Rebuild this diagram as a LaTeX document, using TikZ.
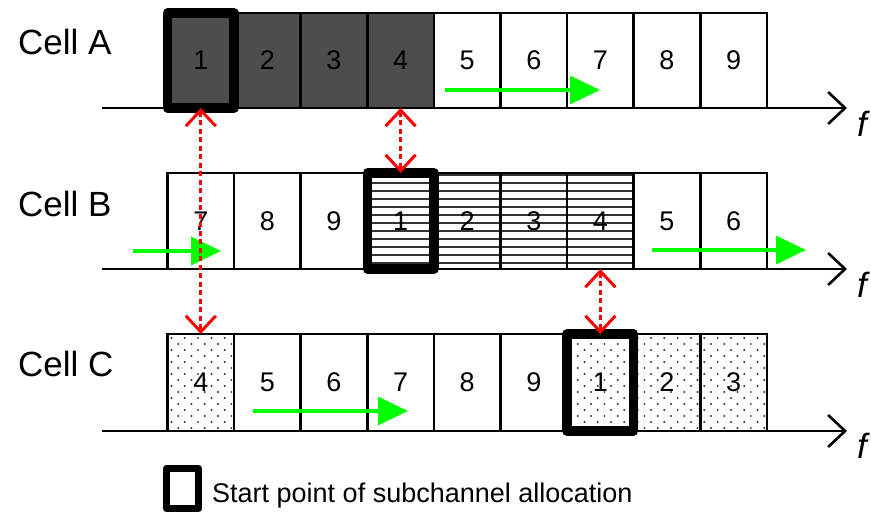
\documentclass[tikz,border=0pt]{standalone}
\usepackage{fontspec}
\setmainfont{Liberation Sans}
\usetikzlibrary{arrows.meta}

\definecolor{cellgray}{HTML}{4D4D4D}
\definecolor{flowgreen}{HTML}{00FF00}
\definecolor{linkred}{HTML}{FF0000}

\begin{document}
\begin{tikzpicture}[x=1pt,y=-1pt,
  sub/.style={draw=black, line width=2.6pt, minimum width=66.6pt,
    inner sep=0pt, outer sep=0pt, anchor=north west,
    font=\fontsize{27}{27}\selectfont},
  plain/.style={},
  dark/.style={fill=cellgray},
  hlines/.style={path picture={
    \foreach \k in {0,...,12}
      \draw[line width=1.6pt, black!80]
        ([yshift=-2pt-\k*8pt]path picture bounding box.north west) --
        ([yshift=-2pt-\k*8pt]path picture bounding box.north east);}},
  dots/.style={path picture={
    \foreach \r in {0,...,16}{
      \pgfmathsetmacro{\off}{mod(\r,2)*6.65}
      \foreach \c in {0,...,5}
        \fill[black!80]
          ([xshift={(4+\off+13.3*\c)*1pt}, yshift={-(4+6*\r)*1pt}]path picture bounding box.north west)
          circle[radius=1.1pt];}}},
  startbox/.style={draw=black, line width=9.5pt, line join=round},
  axis/.style={draw=black, line width=2.6pt, -{Straight Barb[length=17pt,width=32pt]}},
  link/.style={draw=linkred, line width=3pt, dash pattern=on 5pt off 3.5pt,
    {Straight Barb[length=16pt,width=30pt]}-{Straight Barb[length=16pt,width=30pt]}},
  flow/.style={draw=flowgreen, line width=3.2pt, -{Triangle[length=30pt,width=28pt]}},
  celllabel/.style={anchor=base west, inner sep=0pt, font=\fontsize{35}{35}\selectfont},
  flabel/.style={inner sep=0pt, font=\fontsize{35}{35}\selectfont\itshape},
  keytext/.style={anchor=base west, inner sep=0pt, font=\fontsize{27}{27}\selectfont},
]
\useasboundingbox (0,0) rectangle (871,513);

% frequency axes
\coordinate (axA0) at (102,108); \coordinate (axA1) at (847,108);
\coordinate (axB0) at (102,269); \coordinate (axB1) at (847,269);
\coordinate (axC0) at (102,431); \coordinate (axC1) at (847,431);
\draw[axis] (axA0) -- (axA1);
\draw[axis] (axB0) -- (axB1);
\draw[axis] (axC0) -- (axC1);
\node[flabel] (fA) at (862,124) {f};
\node[flabel] (fB) at (862,285) {f};
\node[flabel] (fC) at (862,446) {f};

% row labels
\node[celllabel] (cellA) at (18,55) {Cell A};
\node[celllabel] (cellB) at (18,217) {Cell B};
\node[celllabel] (cellC) at (18,377) {Cell C};

% subchannels of cell A
\foreach \lab/\sty [count=\i from 0] in
  {1/dark,2/dark,3/dark,4/dark,5/plain,6/plain,7/plain,8/plain,9/plain}
  \node[sub, minimum height=95pt, \sty] (A\lab) at ({167.5+66.6*\i},13) {\lab};

% subchannels of cell B
\foreach \lab/\sty [count=\i from 0] in
  {7/plain,8/plain,9/plain,1/hlines,2/hlines,3/hlines,4/hlines,5/plain,6/plain}
  \node[sub, minimum height=96pt, \sty] (B\lab) at ({167.5+66.6*\i},173) {\lab};

% subchannels of cell C
\foreach \lab/\sty [count=\i from 0] in
  {4/dots,5/plain,6/plain,7/plain,8/plain,9/plain,1/dots,2/dots,3/dots}
  \node[sub, minimum height=97pt, \sty] (C\lab) at ({167.5+66.6*\i},334) {\lab};

% start points of the allocation
\draw[startbox] (A1.north west) rectangle (A1.south east);
\draw[startbox] (B1.north west) rectangle (B1.south east);
\draw[startbox] (C1.north west) rectangle (C1.south east);

% allocation direction
\coordinate (gA0) at (445,90);  \coordinate (gA1) at (600,90);
\coordinate (gB0) at (133,251); \coordinate (gB1) at (221,251);
\coordinate (gB2) at (652,250); \coordinate (gB3) at (806,250);
\coordinate (gC0) at (253,411); \coordinate (gC1) at (408,411);
\draw[flow] (gA0) -- (gA1);
\draw[flow] (gB0) -- (gB1);
\draw[flow] (gB2) -- (gB3);
\draw[flow] (gC0) -- (gC1);

% alignment between cells
\draw[link] (A1.south) -- (C4.north);
\draw[link] (A4.south) -- (B1.north);
\draw[link] (B4.south) -- (C1.north);

% legend
\node[draw=black, line width=7pt, line join=round, minimum width=32pt,
  minimum height=40pt, inner sep=0pt, outer sep=0pt] (key) at (182.5,488.5) {};
\node[keytext] (keylabel) at (212,502) {Start point of subchannel allocation};
\end{tikzpicture}
\end{document}
